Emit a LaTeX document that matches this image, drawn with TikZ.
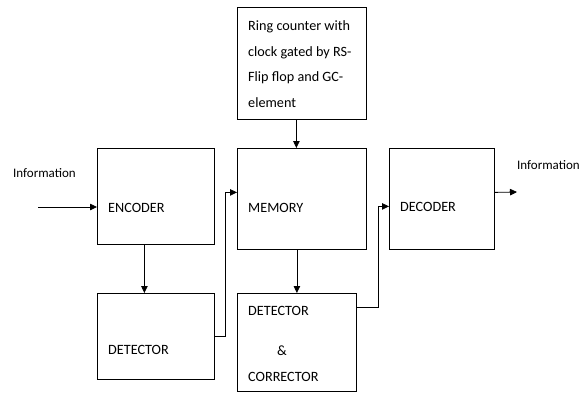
\documentclass[tikz,border=0pt]{standalone}
\usepackage{fontspec}
\setmainfont{Carlito}
\usetikzlibrary{arrows.meta,calc}
\tikzset{
  blk/.style={draw, line width=0.8pt, inner sep=0pt, anchor=north west},
  txt/.style={anchor=base west, inner sep=0pt, font=\fontsize{14.2}{17}\selectfont},
  rtxt/.style={txt, font=\fontsize{14.2}{17}\selectfont},
  lbl/.style={txt, font=\fontsize{13}{15}\selectfont},
  arr/.style={line width=0.8pt, -{Triangle[length=7pt,width=6.5pt]}},
}
\begin{document}
\begin{tikzpicture}[x=1pt, y=-1pt]
\useasboundingbox (0,0) rectangle (579,392);
% Bloecke
\node[blk, minimum width=129pt, minimum height=112pt] (ring) at (237,7) {};
\node[blk, minimum width=117pt, minimum height=96pt] (enc) at (97,148) {};
\node[blk, minimum width=129pt, minimum height=101pt] (mem) at (237,148) {};
\node[blk, minimum width=105pt, minimum height=101pt] (dec) at (389,148) {};
\node[blk, minimum width=117pt, minimum height=86pt] (det) at (97,293) {};
\node[blk, minimum width=119pt, minimum height=98pt] (dc) at (237,293) {};
% Beschriftungen
\node[rtxt] (ringtxt1) at (248,30) {Ring counter with};
\node[rtxt] (ringtxt2) at (248,56) {clock gated by RS-};
\node[rtxt] (ringtxt3) at (248,81) {Flip flop and GC-};
\node[rtxt] (ringtxt4) at (248,107) {element};
\node[txt] (enctxt) at (108,212) {ENCODER};
\node[txt] (memtxt) at (248,212) {MEMORY};
\node[txt] (dectxt) at (400,211) {DECODER};
\node[txt] (dettxt) at (108,354) {DETECTOR};
\node[txt] (dctxt1) at (248,315) {DETECTOR};
\node[txt] (dctxt2) at (277,355) {\&};
\node[txt] (dctxt3) at (248,381) {CORRECTOR};
\node[lbl] (inlbl) at (13,177) {Information};
\node[lbl] (outlbl) at (517,169) {Information};
% Verbindungen
\coordinate (infree) at (38,207);
\coordinate (outfree) at (517,192);
\draw[arr] (infree) -- (infree -| enc.west);
\draw[arr] ([xshift=-11.5pt]enc.south) -- ([xshift=-11.5pt]det.north);
\draw[arr] (det.east) -- ++(11,0) |- ([yshift=6.5pt]mem.west);
\draw[arr] ([xshift=-5.5pt]ring.south) -- ([xshift=-5.5pt]mem.north);
\draw[arr] (mem.south -| dc.north) -- (dc.north);
\draw[arr] ([yshift=35pt]dc.east) -- ++(22,0) |- ([yshift=-7.5pt]dec.west);
\draw[arr] ([yshift=6.5pt]dec.east) -- (outfree);
\end{tikzpicture}
\end{document}
